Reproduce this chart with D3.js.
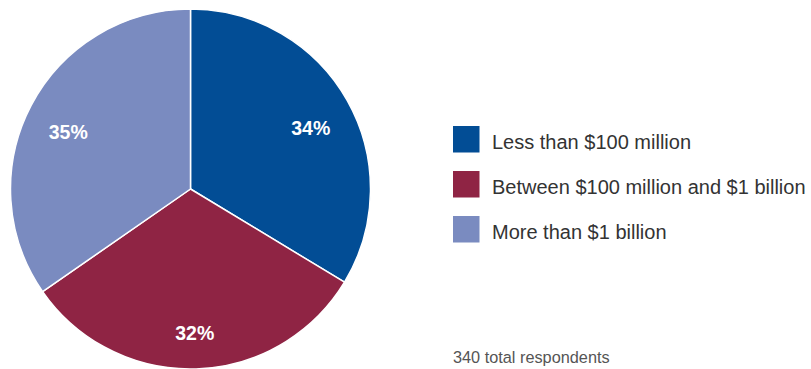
<!DOCTYPE html>
<html>
<head>
<meta charset="utf-8">
<script src="https://cdn.jsdelivr.net/npm/d3@7"></script>
<style>
  html, body { margin: 0; padding: 0; background: #fff; }
  svg { display: block; font-family: "Liberation Sans", Arial, Helvetica, sans-serif; }
</style>
</head>
<body>
<svg id="chart" width="811" height="369"></svg>
<script>
// Company size breakdown of survey respondents
const categories = ["Less than $100 million", "Between $100 million and $1 billion", "More than $1 billion"];
const shares = [34, 32, 35];
const colors = ["#024d95", "#8f2444", "#7a8bc0"];
const totalNote = "340 total respondents";

const svg = d3.select("#chart");
const cx = 190.5, cy = 189, radius = 180;

const pie = d3.pie().sort(null).value(d => d.value);
const arcs = pie(categories.map((c, i) => ({ name: c, value: shares[i], color: colors[i] })));

const arc = d3.arc().innerRadius(0).outerRadius(radius);
const labelArc = d3.arc().innerRadius(138).outerRadius(138);

const g = svg.append("g").attr("transform", `translate(${cx},${cy})`);

g.selectAll("path.slice")
  .data(arcs)
  .join("path")
  .attr("class", "slice")
  .attr("d", arc)
  .attr("fill", d => d.data.color)
  .attr("stroke", "#fff")
  .attr("stroke-width", 1.5)
  .attr("stroke-linejoin", "round");

g.selectAll("text.pct")
  .data(arcs)
  .join("text")
  .attr("class", "pct")
  .attr("transform", d => `translate(${labelArc.centroid(d)})`)
  .attr("text-anchor", "middle")
  .attr("y", 13.5)
  .attr("fill", "#fff")
  .attr("font-size", 19.5)
  .attr("font-weight", "bold")
  .text(d => d.data.value + "%");

// Legend
const legendY = d3.scalePoint().domain(categories).range([139.5, 229.5]);
const legend = svg.append("g").attr("transform", "translate(453,0)");

const items = legend.selectAll("g.item")
  .data(arcs)
  .join("g")
  .attr("class", "item")
  .attr("transform", d => `translate(0,${legendY(d.data.name)})`);

items.append("rect")
  .attr("x", 0)
  .attr("y", -13.5)
  .attr("width", 26.5)
  .attr("height", 26.5)
  .attr("fill", d => d.data.color);

items.append("text")
  .attr("x", 39)
  .attr("y", 9)
  .attr("fill", "#333")
  .attr("font-size", 20)
  .text(d => d.data.name);

svg.append("text")
  .attr("x", 453)
  .attr("y", 363.3)
  .attr("fill", "#555")
  .attr("font-size", 16.3)
  .text(totalNote);
</script>
</body>
</html>
